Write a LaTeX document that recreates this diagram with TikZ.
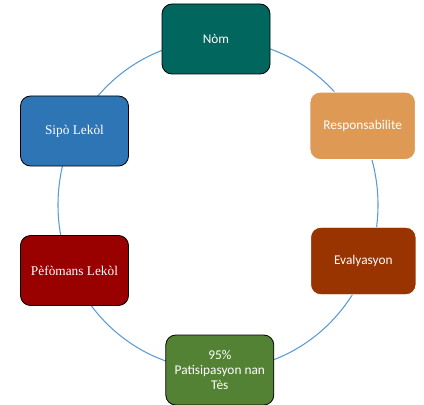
\documentclass[tikz,border=0pt]{standalone}
\usepackage{fontspec}
\setmainfont{Carlito}
\newfontfamily\serifbox{Liberation Serif}

\definecolor{ringblue}{HTML}{5B9BD5}
\definecolor{nomteal}{HTML}{00665E}
\definecolor{respcolor}{HTML}{DE9A55}
\definecolor{evalcolor}{HTML}{993300}
\definecolor{testgreen}{HTML}{548235}
\definecolor{perfred}{HTML}{990000}
\definecolor{supblue}{HTML}{2E75B6}

\tikzset{
  cyclebox/.style={rounded corners=7.5pt, minimum width=81pt, minimum height=52.5pt,
    text=white, align=center, inner sep=2pt, draw=black, line width=0.6pt,
    font=\fontsize{10}{11.5}\selectfont},
  softbox/.style={cyclebox, draw=white, minimum width=79pt, minimum height=50.5pt},
  ring/.style={draw=ringblue, line width=0.8pt}
}

\begin{document}
\begin{tikzpicture}[x=0.75pt,y=0.75pt]
\useasboundingbox (0,0) rectangle (424,404);

%ring behind the boxes
\coordinate (ctr) at (218,199);
\draw[ring] (ctr) ellipse [x radius=160, y radius=165];

%boxes, clockwise from the top
\node[cyclebox, fill=nomteal] (nom) at (216,365) {Nòm};
\node[softbox, fill=respcolor] (resp) at (362.7,278.2) {Responsabilite};
\node[softbox, fill=evalcolor] (eval) at (363.3,143) {Evalyasyon};
\node[cyclebox, fill=testgreen] (test) at (219.8,34) {95\%\\Patisipasyon nan\\Tès};
\node[cyclebox, fill=perfred, font=\serifbox\fontsize{10}{11.5}\selectfont] (perf) at (74.5,133.5) {Pèfòmans Lekòl};
\node[cyclebox, fill=supblue, font=\serifbox\fontsize{10}{11.5}\selectfont] (sup) at (74.5,273) {Sipò Lekòl};

\end{tikzpicture}
\end{document}
